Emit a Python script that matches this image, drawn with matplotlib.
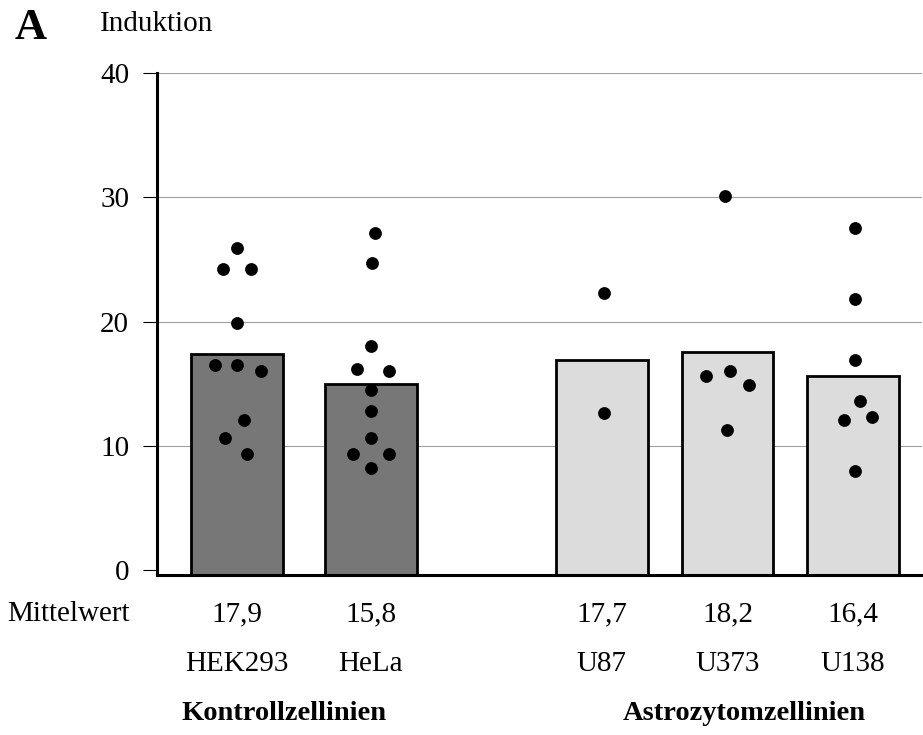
"""Induktion per cell line: bar with individual measurements (panel A)."""

import matplotlib

matplotlib.use("Agg")
import matplotlib.pyplot as plt

cell_lines = ["HEK293", "HeLa", "U87", "U373", "U138"]
mean_labels = ["17,9", "15,8", "17,7", "18,2", "16,4"]
bar_values = [17.4, 15.0, 16.9, 17.55, 15.6]
group_names = ["Kontrollzellinien", "Astrozytomzellinien"]

hek293_points = [25.9, 24.2, 24.2, 19.9, 16.5, 16.5, 16.0, 12.1, 10.6, 9.3]
hela_points = [27.1, 24.7, 18.0, 16.2, 16.0, 14.5, 12.8, 10.6, 9.3, 9.3, 8.2]
u87_points = [22.3, 12.6]
u373_points = [30.1, 16.0, 15.6, 14.9, 11.3]
u138_points = [27.5, 21.8, 16.9, 13.6, 12.3, 12.1, 8.0]

# horizontal spread of the dots inside each bar (fraction of bar spacing)
hek293_jitter = [0, -0.11, 0.11, 0, -0.17, 0, 0.19, 0.06, -0.09, 0.08]
hela_jitter = [0.03, 0.01, 0, -0.11, 0.14, 0, 0, 0, -0.14, 0.14, 0]
u87_jitter = [0.02, 0.02]
u373_jitter = [-0.02, 0.02, -0.17, 0.17, 0]
u138_jitter = [0.02, 0.02, 0.02, 0.06, 0.15, -0.07, 0.02]

y_ticks = [0, 10, 20, 30, 40]
x_pos = [0, 1.07, 2.91, 3.91, 4.91]
bar_colors = ["#777777", "#777777", "#dcdcdc", "#dcdcdc", "#dcdcdc"]
SERIF = ["Liberation Serif", "DejaVu Serif"]


def main() -> None:
    plt.rcParams["font.family"] = SERIF
    fig = plt.figure(figsize=(9.23, 7.35), dpi=100)
    ax = fig.add_axes([0.1701, 0.2177, 0.8288, 0.683])

    y0 = -0.4
    ax.set_ylim(y0, 40)
    ax.set_xlim(-0.635, 5.46)

    ax.bar(x_pos, [v - y0 for v in bar_values], bottom=y0, width=0.73,
           color=bar_colors, edgecolor="black", linewidth=2, zorder=2)

    points = [hek293_points, hela_points, u87_points, u373_points, u138_points]
    jitter = [hek293_jitter, hela_jitter, u87_jitter, u373_jitter, u138_jitter]
    for x, ys, offs in zip(x_pos, points, jitter):
        ax.scatter([x + o for o in offs], ys, s=85, color="black",
                   linewidths=0, zorder=3)

    for y in y_ticks[1:]:
        ax.axhline(y, color="#a0a0a0", linewidth=0.8, zorder=0)

    ax.set_yticks(y_ticks)
    ax.set_yticklabels([str(t) for t in y_ticks], fontsize=21)
    ax.tick_params(axis="y", length=10, width=0.8, pad=10)
    ax.set_xticks([])
    for side in ("top", "right"):
        ax.spines[side].set_visible(False)
    for side in ("left", "bottom"):
        ax.spines[side].set_linewidth(2.2)
        ax.spines[side].set_zorder(4)

    tr = ax.get_xaxis_transform()
    for x, mean, name in zip(x_pos, mean_labels, cell_lines):
        ax.text(x, -0.078, mean, transform=tr, ha="center", va="center", fontsize=21)
        ax.text(x, -0.178, name, transform=tr, ha="center", va="center", fontsize=21)
    ax.text(-0.85, -0.078, "Mittelwert", transform=tr, ha="right", va="center", fontsize=21)

    ax.text((x_pos[0] + x_pos[1]) / 2 - 0.155, -0.276, group_names[0], transform=tr,
            ha="center", va="center", fontsize=20.5, fontweight="bold")
    ax.text(x_pos[3] + 0.13, -0.276, group_names[1], transform=tr,
            ha="center", va="center", fontsize=20.5, fontweight="bold")

    fig.text(15 / 923, 1 - 28 / 735, "A", ha="left", va="center",
             fontsize=32, fontweight="bold")
    fig.text(100 / 923, 1 - 24 / 735, "Induktion", ha="left", va="center", fontsize=21)

    fig.savefig("out.png", dpi=100)
    plt.close(fig)


if __name__ == "__main__":
    main()
